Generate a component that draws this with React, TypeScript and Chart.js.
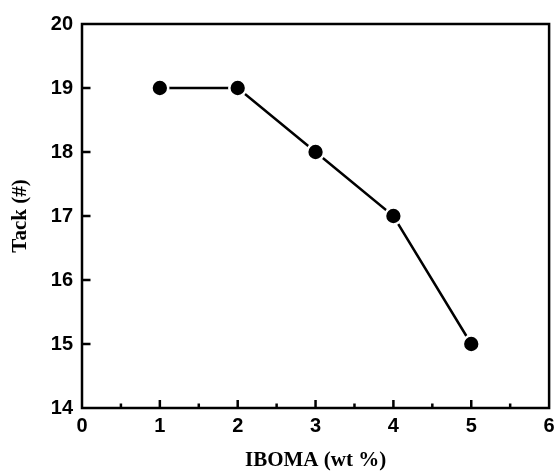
import React, { useEffect, useRef } from "react";
import { Chart, registerables } from "chart.js";

Chart.register(...registerables);

const ibomaWt = [1, 2, 3, 4, 5];
const tackValues = [19, 19, 18, 17, 15];
const xMin = 0, xMax = 6;
const yMin = 14, yMax = 20;
const xMinorTicks = [0.5, 1.5, 2.5, 3.5, 4.5, 5.5];
const xMajorTicks = [1, 2, 3, 4, 5];
const yMajorTicks = [15, 16, 17, 18, 19];
const xTitle = "IBOMA (wt %)";
const yTitle = "Tack (#)";

const framePlugin = {
  id: "frameTicks",
  beforeDatasetsDraw(chart: any) {
    const { ctx, chartArea: a, scales } = chart;
    const xs = scales.x, ys = scales.y;
    ctx.save();
    ctx.strokeStyle = "#000";
    ctx.lineWidth = 2.5;
    ctx.lineCap = "butt";
    ctx.strokeRect(a.left, a.top, a.right - a.left, a.bottom - a.top);
    ctx.beginPath();
    for (const v of xMajorTicks) {
      const px = xs.getPixelForValue(v);
      ctx.moveTo(px, a.bottom);
      ctx.lineTo(px, a.bottom - 8);
    }
    for (const v of xMinorTicks) {
      const px = xs.getPixelForValue(v);
      ctx.moveTo(px, a.bottom);
      ctx.lineTo(px, a.bottom - 4.5);
    }
    for (const v of yMajorTicks) {
      const py = ys.getPixelForValue(v);
      ctx.moveTo(a.left, py);
      ctx.lineTo(a.left + 8.5, py);
    }
    ctx.stroke();
    ctx.restore();
  },
};

export default function App() {
  const ref = useRef<HTMLCanvasElement>(null);
  useEffect(() => {
    if (!ref.current) return;
    const chart = new Chart(ref.current, {
      type: "scatter",
      data: {
        datasets: [
          {
            data: ibomaWt.map((x, i) => ({ x, y: tackValues[i] })),
            showLine: true,
            borderColor: "#000",
            borderWidth: 2.5,
            pointRadius: 8.4,
            pointBackgroundColor: "#000",
            pointBorderColor: "#fff",
            pointBorderWidth: 2.5,
            clip: false,
          } as any,
        ],
      },
      options: {
        responsive: false,
        animation: false,
        devicePixelRatio: 1,
        layout: { padding: { top: 24, right: 8, left: 0, bottom: 0 } },
        plugins: { legend: { display: false }, tooltip: { enabled: false } },
        scales: {
          x: {
            type: "linear",
            min: xMin,
            max: xMax,
            grid: { display: false, drawTicks: false },
            border: { display: false },
            ticks: {
              stepSize: 1,
              padding: 6,
              color: "#000",
              font: { family: "'Liberation Sans', Arial, sans-serif", size: 20, weight: "bold" },
            },
            title: {
              display: true,
              text: xTitle,
              color: "#000",
              padding: { top: 0, bottom: 0 },
              font: { family: "'Liberation Serif', 'Times New Roman', serif", size: 21, weight: "bold", lineHeight: 1.1 },
            },
            afterFit(scale: any) {
              scale.height = 64;
              scale.paddingLeft = 0;
              scale.paddingRight = 0;
            },
          },
          y: {
            type: "linear",
            min: yMin,
            max: yMax,
            grid: { display: false, drawTicks: false },
            border: { display: false },
            ticks: {
              stepSize: 1,
              padding: 9,
              color: "#000",
              font: { family: "'Liberation Sans', Arial, sans-serif", size: 20, weight: "bold" },
            },
            title: {
              display: true,
              text: yTitle,
              color: "#000",
              padding: { top: 9.5, bottom: 0 },
              font: { family: "'Liberation Serif', 'Times New Roman', serif", size: 21, weight: "bold", lineHeight: 1.1 },
            },
            afterFit(scale: any) {
              scale.width = 82;
              scale.paddingTop = 0;
              scale.paddingBottom = 0;
            },
          },
        },
      } as any,
      plugins: [framePlugin],
    });
    return () => chart.destroy();
  }, []);
  return (
    <div style={{ position: "fixed", left: 0, top: 0, width: 560, height: 472, background: "#fff" }}>
      <canvas ref={ref} width={560} height={472} style={{ display: "block" }} />
    </div>
  );
}
